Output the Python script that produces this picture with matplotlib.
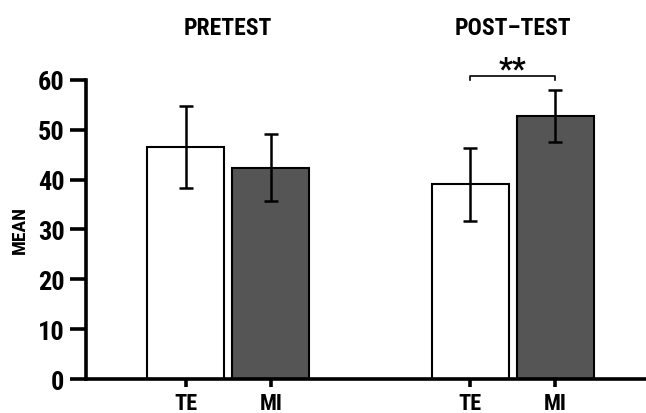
import matplotlib
matplotlib.use("Agg")
import matplotlib.pyplot as plt
from matplotlib import font_manager as fm
import numpy as np

groups = ["PRETEST", "POST–TEST"]
conditions = ["TE", "MI"]
te_means = [46.5, 39.0]
te_err = [8.3, 7.3]
mi_means = [42.4, 52.7]
mi_err = [6.8, 5.2]
yticks = [0, 10, 20, 30, 40, 50, 60]

names = {f.name for f in fm.fontManager.ttflist}
fam = "Roboto Condensed" if "Roboto Condensed" in names else "DejaVu Sans"
plt.rcParams['font.family'] = [fam, "DejaVu Sans"]
plt.rcParams['font.weight'] = 'bold'

fig = plt.figure(figsize=(6.46, 4.14), dpi=100)
ax = fig.add_axes([0.133, 0.082, 0.867, 0.723])

g = np.arange(len(groups))
off = 0.150
w = 0.271
lw_ax = 2.6

ax.bar(g - off, te_means, w, color="white", edgecolor="black", linewidth=1.5, zorder=2)
ax.bar(g + off, mi_means, w, color="#555555", edgecolor="black", linewidth=1.5, zorder=2)
ax.errorbar(g - off, te_means, yerr=te_err, fmt="none", ecolor="black", elinewidth=1.8, capsize=5, capthick=1.8, zorder=3)
ax.errorbar(g + off, mi_means, yerr=mi_err, fmt="none", ecolor="black", elinewidth=1.8, capsize=5, capthick=1.8, zorder=3)

ax.set_xlim(-0.5, 1.468)
ax.set_ylim(0, 60)
ax.set_yticks(yticks)
ax.set_yticklabels([str(v) for v in yticks], fontsize=19, fontweight='bold')
ticks_x = np.concatenate([g - off, g + off])
labels_x = [conditions[0]] * len(g) + [conditions[1]] * len(g)
ax.set_xticks(ticks_x)
ax.set_xticklabels(labels_x, fontsize=16, fontweight='bold')
ax.tick_params(axis='y', length=11.5, width=lw_ax, pad=4)
ax.tick_params(axis='x', length=6, width=lw_ax, pad=3)
for s in ["top", "right"]:
    ax.spines[s].set_visible(False)
for s in ["left", "bottom"]:
    ax.spines[s].set_linewidth(lw_ax)
ax.set_ylabel("MEAN", fontsize=14, fontweight='bold', labelpad=6)

for gi, name in zip(g, groups):
    ax.text(gi, 70.4, name, ha="center", va="center", fontsize=17, fontweight='bold', clip_on=False)

# significance bracket for post-test
y_br = 60.7
x1, x2 = g[1] - off, g[1] + off
ax.plot([x1, x1, x2, x2], [y_br - 0.7, y_br, y_br, y_br - 0.7], color="black", lw=1.2, clip_on=False)
ax.text((x1 + x2) / 2, y_br - 1.4, "**", ha="center", va="bottom", fontsize=22, fontweight='bold', clip_on=False)

fig.savefig("out.png", dpi=100)
